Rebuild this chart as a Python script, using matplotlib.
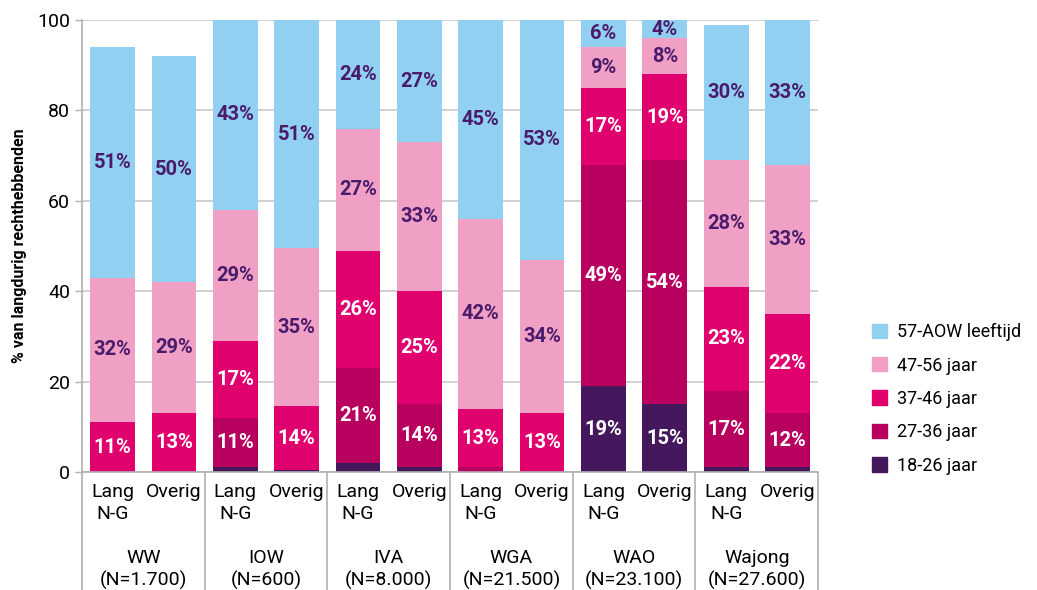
import numpy as np
import matplotlib.pyplot as plt
import matplotlib.transforms as mtransforms
from matplotlib.patches import Patch

plt.rcParams['font.family'] = ['Roboto', 'DejaVu Sans']

groups = ["WW\n(N=1.700)", "IOW\n(N=600)", "IVA\n(N=8.000)", "WGA\n(N=21.500)",
          "WAO\n(N=23.100)", "Wajong\n(N=27.600)"]
sub_labels = ["Lang\nN-G", "Overig"] * 6

age_groups = ["18-26 jaar", "27-36 jaar", "37-46 jaar", "47-56 jaar", "57-AOW leeftijd"]

# one value per bar, order: WW Lang, WW Overig, IOW Lang, IOW Overig, ...
age_18_26 = [0, 0, 1, 0.5, 2, 1, 0, 0, 19, 15, 1, 1]
age_27_36 = [0, 0, 11, 0, 21, 14, 1, 0, 49, 54, 17, 12]
age_37_46 = [11, 13, 17, 14, 26, 25, 13, 13, 17, 19, 23, 22]
age_47_56 = [32, 29, 29, 35, 27, 33, 42, 34, 9, 8, 28, 33]
age_57_aow = [51, 50, 43, 51, 24, 27, 45, 53, 6, 4, 30, 33]

colors = ["#45175d", "#b8005f", "#e0006e", "#f0a0c4", "#92d0f2"]
label_colors = ["white", "white", "white", "#4b1b6b", "#4b1b6b"]

series = [age_18_26, age_27_36, age_37_46, age_47_56, age_57_aow]

fig = plt.figure(figsize=(10.37, 5.90), dpi=100)
ax = fig.add_axes([0.079, 0.2, 0.71, 0.766])

x = np.arange(len(sub_labels))
bottom = np.zeros(len(x))
for vals, col, lcol, name in zip(series, colors, label_colors, age_groups):
    vals = np.array(vals, dtype=float)
    ax.bar(x, vals, 0.73, bottom=bottom, color=col, label=name, zorder=2)
    for xi, v, b in zip(x, vals, bottom):
        if v >= 4:
            yc = (b + min(b + v, 100)) / 2
            ax.text(xi, yc, f"{int(v)}%", ha="center", va="center",
                    color=lcol, fontsize=14.5, fontweight="bold", zorder=3)
    bottom += vals

ax.set_ylim(0, 100)
ax.set_xlim(-0.5, len(x) - 0.5)
ax.set_yticks([0, 20, 40, 60, 80, 100])
ax.yaxis.grid(True, color="#c8c8c8", linewidth=1.2, zorder=0)
ax.set_axisbelow(True)
ax.tick_params(axis="y", labelsize=14, color="#b0b0b0", length=5, width=1)
for s in ["top", "right", "bottom"]:
    ax.spines[s].set_visible(False)
ax.spines["left"].set_color("#b0b0b0")
ax.spines["left"].set_linewidth(1.2)
ax.set_ylabel("% van langdurig rechthebbenden", fontsize=11.5, fontweight="bold", labelpad=7)

ax.set_xticks(x)
ax.set_xticklabels([])
ax.tick_params(axis="x", length=0)

trans = mtransforms.blended_transform_factory(ax.transData, ax.transAxes)
for xi, lab in zip(x, sub_labels):
    ax.text(xi, -0.025, lab, transform=trans, ha="center", va="top", fontsize=14,
            linespacing=1.3)
for gi, g in enumerate(groups):
    ax.text(2 * gi + 0.5, -0.17, g, transform=trans, ha="center", va="top", fontsize=14,
            linespacing=1.3)
for b in np.arange(-0.5, len(x), 2):
    ax.plot([b, b], [0, -0.27], transform=trans, color="#b0b0b0", linewidth=1.2,
            clip_on=False)
ax.plot([-0.5, len(x) - 0.5], [0, 0], transform=trans, color="#b0b0b0", linewidth=1.2,
        clip_on=False, zorder=4)

handles = [Patch(color=c, label=n) for c, n in zip(colors, age_groups)][::-1]
fig.legend(handles=handles, loc="center left", bbox_to_anchor=(0.841, 0.324),
           frameon=False, fontsize=13, handlelength=0.85, handleheight=0.85,
           labelspacing=0.85, handletextpad=0.55, borderpad=0, borderaxespad=0)

fig.savefig("out.png", dpi=100)
